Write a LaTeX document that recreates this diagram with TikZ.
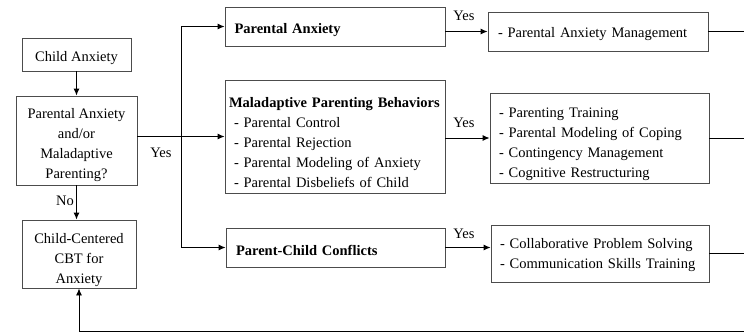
\documentclass[tikz,border=0pt]{standalone}
\usepackage{fontspec}
\setmainfont{Liberation Serif}
\usetikzlibrary{arrows.meta}
\newcommand{\myrise}[1]{\rule{0pt}{#1pt}}
\begin{document}
\begin{tikzpicture}[x=1pt,y=-1pt,
  box/.style={draw=black!70, line width=0.9pt, font=\fontsize{14.5}{20}\selectfont, inner sep=0pt},
  lbox/.style={box, align=left},
  lbl/.style={font=\fontsize{14.5}{20}\selectfont, inner sep=0pt},
  conn/.style={line width=0.9pt, -{Latex[length=7pt,width=6pt]}},
  plain/.style={line width=0.9pt}]
\useasboundingbox (0,0) rectangle (744,333);

% left column
\node[box, minimum width=109, minimum height=33, align=center] (ca) at (76.5,54.5) {\myrise{18}Child Anxiety};
\node[box, minimum width=121, minimum height=89, align=center] (dec) at (76.5,140.5) {\myrise{20}Parental Anxiety\\and/or\\Maladaptive\\Parenting?};
\node[box, minimum width=114, minimum height=68, align=center] (cc) at (79,254) {\myrise{22}Child-Centered\\CBT for\\Anxiety};

% middle column
\node[lbox, minimum height=39, text width=201, inner xsep=9.5] (pa) at (335,26.5) {\myrise{18}\textbf{Parental Anxiety}};
\node[lbox, minimum height=113, text width=212, inner xsep=4] (mal) at (335,136.5)
  {\myrise{22}\mbox{\textbf{Maladaptive Parenting Behaviors}}\\
   \hspace*{5pt}- Parental Control\\
   \hspace*{5pt}- Parental Rejection\\
   \hspace*{5pt}- Parental Modeling of Anxiety\\
   \hspace*{5pt}- Parental Disbeliefs of Child};
\node[lbox, minimum height=39, text width=199, inner xsep=10] (pcc) at (335.5,247.5) {\myrise{16}\textbf{Parent-Child Conflicts}};

% right column
\node[lbox, minimum height=39, text width=200, inner xsep=10] (r1) at (598,31.5) {\myrise{16}- Parental Anxiety Management};
\node[lbox, minimum height=90, text width=201, inner xsep=9] (r2) at (599.5,138)
  {\myrise{22}- Parenting Training\\
   - Parental Modeling of Coping\\
   - Contingency Management\\
   - Cognitive Restructuring};
\node[lbox, minimum height=57, text width=200, inner xsep=9] (r3) at (600,253.5)
  {\myrise{14}- Collaborative Problem Solving\\
   - Communication Skills Training};

% connectors left
\draw[conn] (ca) -- (dec);
\draw[conn] (dec.south) -- (dec.south |- cc.north);
\node[lbl] (no) at (65,201) {No};

\coordinate (tr) at (181,0);
\draw[plain] (tr |- pa.west) -- (tr |- pcc.west);
\draw[conn] (tr |- pa.west) -- (pa.west);
\draw[conn] (tr |- pcc.west) -- (pcc.west);
\draw[conn] (dec.east |- mal.west) -- (mal.west);
\node[lbl] (yes0) at (161,153) {Yes};

% connectors middle to right
\draw[conn] (pa.east |- r1.west) -- (r1.west);
\node[lbl] (yes1) at (464,16) {Yes};
\draw[conn] (mal.east |- r2.west) -- (r2.west);
\node[lbl] (yes2) at (464,123) {Yes};
\draw[conn] (pcc.east) -- (pcc.east -| r3.west);
\node[lbl] (yes3) at (464,234) {Yes};

% exits and return
\coordinate (re) at (744,0);
\coordinate (bl) at (79,331.5);
\draw[plain] (r1.east) -- (r1.east -| re);
\draw[plain] (r2.east) -- (r2.east -| re);
\draw[plain] (r3.east) -- (r3.east -| re);
\draw[conn] (re |- bl) -- (bl) -- (cc.south);
\end{tikzpicture}
\end{document}
